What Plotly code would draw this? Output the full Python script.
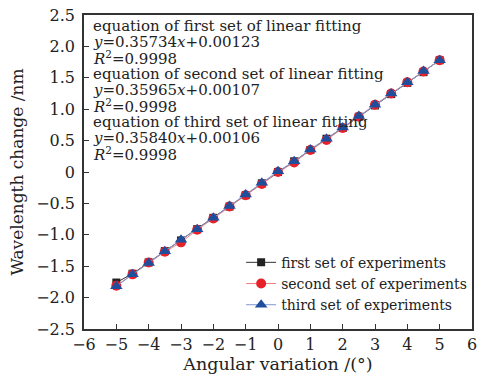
import plotly.graph_objects as go

angle = [-5, -4.5, -4, -3.5, -3, -2.5, -2, -1.5, -1, -0.5, 0, 0.5, 1, 1.5, 2, 2.5, 3, 3.5, 4, 4.5, 5]
first_set = [-1.76, -1.62, -1.44, -1.26, -1.09, -0.91, -0.73, -0.55, -0.37, -0.18, 0.00, 0.17, 0.35, 0.53, 0.70, 0.88, 1.06, 1.24, 1.42, 1.59, 1.78]
second_set = [-1.81, -1.63, -1.44, -1.27, -1.12, -0.92, -0.74, -0.55, -0.37, -0.19, 0.00, 0.15, 0.35, 0.51, 0.70, 0.88, 1.07, 1.25, 1.43, 1.60, 1.78]
third_set = [-1.82, -1.63, -1.45, -1.26, -1.08, -0.91, -0.73, -0.54, -0.36, -0.17, 0.01, 0.17, 0.36, 0.53, 0.71, 0.89, 1.07, 1.25, 1.43, 1.61, 1.78]

y_tickvals = [-2.5, -2.0, -1.5, -1.0, -0.5, 0, 0.5, 1.0, 1.5, 2.0, 2.5]
y_ticktext = ["−2.5", "−2.0", "−1.5", "−1.0", "−0.5", "0", "0.5", "1.0", "1.5", "2.0", "2.5"]

series_names = ["first set of experiments", "second set of experiments", "third set of experiments"]
fit_lines = [
    "equation of first set of linear fitting",
    "<i>y</i>=0.35734<i>x</i>+0.00123",
    "<i>R</i><sup>2</sup>=0.9998",
    "equation of second set of linear fitting",
    "<i>y</i>=0.35965<i>x</i>+0.00107",
    "<i>R</i><sup>2</sup>=0.9998",
    "equation of third set of linear fitting",
    "<i>y</i>=0.35840<i>x</i>+0.00106",
    "<i>R</i><sup>2</sup>=0.9998",
]

FONT = "DejaVu Serif"

fig = go.Figure()
fig.add_trace(go.Scatter(x=angle, y=first_set, name=series_names[0], mode="lines+markers",
                         line=dict(color="#333333", width=1),
                         marker=dict(symbol="square", size=8, color="#222222")))
fig.add_trace(go.Scatter(x=angle, y=second_set, name=series_names[1], mode="lines+markers",
                         line=dict(color="#f08080", width=1),
                         marker=dict(symbol="circle", size=10, color="#e8202a")))
fig.add_trace(go.Scatter(x=angle, y=third_set, name=series_names[2], mode="lines+markers",
                         line=dict(color="#7f96cf", width=1),
                         marker=dict(symbol="triangle-up", size=11, color="#1f4e9c")))

y0 = 0.965
for i, t in enumerate(fit_lines):
    fig.add_annotation(text=t, xref="paper", yref="paper", x=0.018, y=y0 - i * 0.0508,
                       xanchor="left", yanchor="middle", showarrow=False,
                       font=dict(family=FONT, size=15, color="#222222"))

fig.update_layout(
    width=483, height=383,
    margin=dict(l=84, r=6, t=12, b=54),
    paper_bgcolor="white", plot_bgcolor="white",
    font=dict(family=FONT, size=16, color="#222222"),
    showlegend=True,
    legend=dict(x=0.405, y=0.262, xanchor="left", yanchor="top",
                bgcolor="rgba(0,0,0,0)", font=dict(family=FONT, size=14),
                tracegroupgap=0, itemwidth=30),
)
fig.update_xaxes(range=[-6, 6], dtick=1, tick0=-6, showgrid=False, zeroline=False,
                 showline=True, linecolor="#333333", linewidth=1.5, mirror=True,
                 ticks="inside", ticklen=5, tickcolor="#333333",
                 title=dict(text="Angular variation /(°)", font=dict(size=17.5), standoff=4),
                 tickfont=dict(size=16))
fig.update_yaxes(range=[-2.5, 2.5], tickmode="array", tickvals=y_tickvals, ticktext=y_ticktext,
                 showgrid=False, zeroline=False,
                 showline=True, linecolor="#333333", linewidth=1.5, mirror=True,
                 ticks="inside", ticklen=5, tickcolor="#333333", ticklabelstandoff=4,
                 title=dict(text="Wavelength change /nm", font=dict(size=17), standoff=8),
                 tickfont=dict(size=16))

fig.write_html("out.html")
